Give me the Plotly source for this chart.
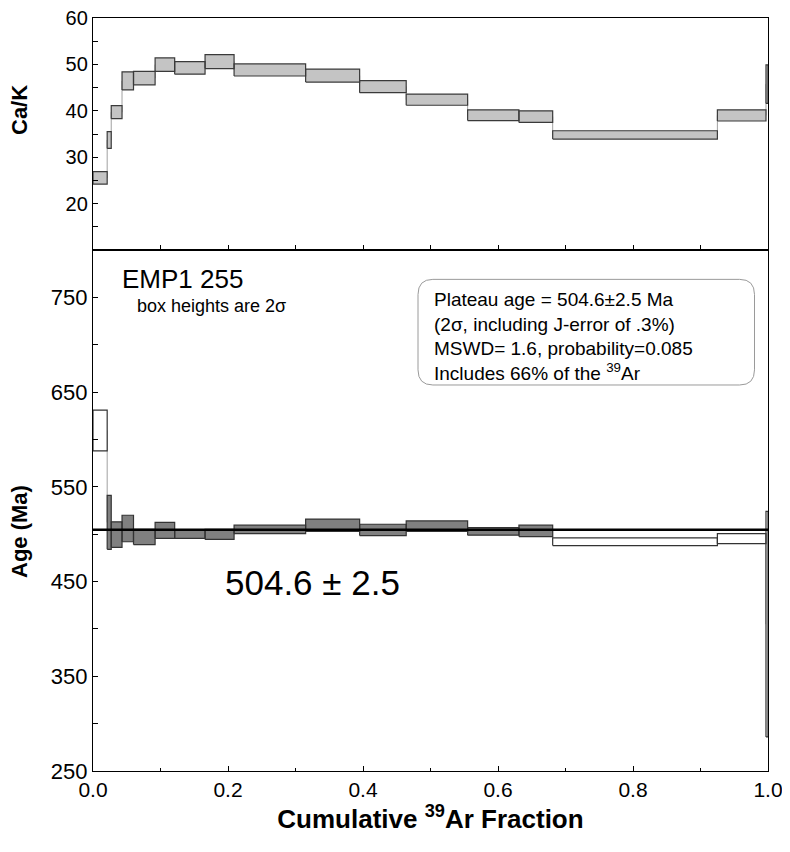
import plotly.graph_objects as go

# ---- data ----
step_edges = [0.0, 0.021, 0.027, 0.043, 0.060, 0.092, 0.121, 0.166, 0.209,
              0.315, 0.395, 0.464, 0.555, 0.631, 0.681, 0.925, 0.997, 1.0]
cak_low = [24.2, 31.9, 38.3, 44.5, 45.6, 48.5, 47.9, 49.1, 47.5, 46.2,
           43.9, 41.2, 37.9, 37.5, 33.9, 37.8, 41.6]
cak_high = [26.9, 35.5, 41.1, 48.4, 48.5, 51.4, 50.6, 52.1, 50.1, 49.0,
            46.5, 43.6, 40.2, 40.0, 35.7, 40.2, 49.9]
age_low = [588, 484, 486, 492, 489, 495.5, 495.5, 494.5, 500.5, 503,
           498.5, 503, 499, 497.5, 488, 490, 286]
age_high = [631, 541, 513, 520, 505, 512.5, 504, 505, 509.5, 516,
            510.5, 514, 507, 509.5, 496, 500.5, 524]
in_plateau = [False] + [True] * 13 + [False, False, False]
plateau_age = 504.6
plateau_err = 2.5

x_ticks = [0.0, 0.2, 0.4, 0.6, 0.8, 1.0]
age_ticks = [250, 350, 450, 550, 650, 750]
cak_ticks = [20, 30, 40, 50, 60]

FONT = "Liberation Sans, Arial, sans-serif"


def boxes(lows, highs, mask=None):
    xs, ys = [], []
    for i in range(len(lows)):
        if mask is not None and not mask[i]:
            continue
        x0, x1 = step_edges[i], step_edges[i + 1]
        lo, hi = lows[i], highs[i]
        xs += [x0, x1, x1, x0, x0, None]
        ys += [lo, lo, hi, hi, lo, None]
    return xs, ys


def connector(lows, highs):
    mids = [(a + b) / 2 for a, b in zip(lows, highs)]
    xs = step_edges[:-1] + [step_edges[-1]]
    ys = mids + [mids[-1]]
    return xs, ys


fig = go.Figure()

# --- Ca/K panel ---
cx, cy = connector(cak_low, cak_high)
fig.add_trace(go.Scatter(x=cx, y=cy, mode="lines", line=dict(color="#a0a0a0", width=1, shape="hv"),
                         xaxis="x2", yaxis="y2", hoverinfo="skip", showlegend=False))
bx, by = boxes(cak_low, cak_high)
fig.add_trace(go.Scatter(x=bx, y=by, mode="lines", fill="toself", fillcolor="#c4c4c4",
                         line=dict(color="#3a3a3a", width=1.2), xaxis="x2", yaxis="y2",
                         hoverinfo="skip", showlegend=False))

# --- Age panel ---
ax_, ay_ = connector(age_low, age_high)
fig.add_trace(go.Scatter(x=ax_, y=ay_, mode="lines", line=dict(color="#a0a0a0", width=1, shape="hv"),
                         xaxis="x", yaxis="y", hoverinfo="skip", showlegend=False))
px_, py_ = boxes(age_low, age_high, in_plateau)
fig.add_trace(go.Scatter(x=px_, y=py_, mode="lines", fill="toself", fillcolor="#808080",
                         line=dict(color="#333333", width=1.2), xaxis="x", yaxis="y",
                         hoverinfo="skip", showlegend=False))
ox, oy = boxes(age_low, age_high, [not p for p in in_plateau])
fig.add_trace(go.Scatter(x=ox, y=oy, mode="lines", fill="toself", fillcolor="white",
                         line=dict(color="#333333", width=1.2), xaxis="x", yaxis="y",
                         hoverinfo="skip", showlegend=False))
fig.add_trace(go.Scatter(x=[0.0, 1.0], y=[plateau_age, plateau_age], mode="lines",
                         line=dict(color="black", width=2.6), xaxis="x", yaxis="y",
                         hoverinfo="skip", showlegend=False))

MT, MB, ML, MR = 10, 73, 85, 14
FIG_W, FIG_H = 774, 836
PLOT_H = FIG_H - MT - MB
PLOT_W = FIG_W - ML - MR
split = 521 / PLOT_H

axis_common = dict(showline=True, linecolor="black", linewidth=1.3, ticks="inside",
                   ticklen=5, tickcolor="black", showgrid=False, zeroline=False,
                   automargin=False, ticklabeloverflow="allow")

fig.update_layout(
    width=FIG_W, height=FIG_H,
    margin=dict(l=ML, r=MR, t=MT, b=MB, autoexpand=False),
    paper_bgcolor="white", plot_bgcolor="white",
    font=dict(family=FONT, color="black"),
    xaxis=dict(domain=[0, 1], range=[0, 1], anchor="y", mirror=True,
               tickvals=x_ticks, ticktext=[f"{v:.1f}" for v in x_ticks],
               tickfont=dict(size=21),
               minor=dict(dtick=0.1, tick0=0, ticks="inside", ticklen=3, tickcolor="black"),
               title=dict(text="<b>Cumulative <sup>39</sup>Ar Fraction</b>", font=dict(size=26), standoff=2),
               **axis_common),
    yaxis=dict(domain=[0, split], range=[250, 800], anchor="x", mirror=True,
               tickvals=age_ticks, tickfont=dict(size=22),
               minor=dict(dtick=50, tick0=250, ticks="inside", ticklen=5, tickcolor="black"),
               **axis_common),
    xaxis2=dict(domain=[0, 1], range=[0, 1], anchor="y2", mirror=True, matches="x",
                showticklabels=False, dtick=0.1, **axis_common),
    yaxis2=dict(domain=[split, 1], range=[10, 60], anchor="x2", mirror=True,
                tickvals=cak_ticks, tickfont=dict(size=20),
                minor=dict(dtick=5, tick0=10, ticks="inside", ticklen=5, tickcolor="black"),
                **axis_common),
)

# y titles (window pixels minus 8px page offset)
title_x = (11 - ML) / PLOT_W
fig.add_annotation(text="<b>Ca/K</b>", xref="paper", yref="paper", x=title_x,
                   y=(FIG_H - MB - 102) / PLOT_H, xanchor="center", yanchor="middle",
                   textangle=-90, showarrow=False, font=dict(size=22, family=FONT))
fig.add_annotation(text="<b>Age (Ma)</b>", xref="paper", yref="paper", x=title_x,
                   y=(FIG_H - MB - 524) / PLOT_H, xanchor="center", yanchor="middle",
                   textangle=-90, showarrow=False, font=dict(size=22, family=FONT))

# panel texts
fig.add_annotation(text="EMP1 255", xref="x", yref="y", x=0.04, y=769, xanchor="left",
                   showarrow=False, font=dict(size=26, family=FONT))
fig.add_annotation(text="box heights are 2σ", xref="x", yref="y", x=0.062, y=741, xanchor="left",
                   showarrow=False, font=dict(size=18, family=FONT))
fig.add_annotation(text=f"{plateau_age} ± {plateau_err}", xref="x", yref="y", x=0.325, y=449,
                   showarrow=False, font=dict(size=35, family=FONT))

# rounded info box
bx0, bx1 = 0.4815, 0.98
by0, by1 = 657.5, 769
rx, ry = 0.022, 16
path = (f"M {bx0+rx},{by1} L {bx1-rx},{by1} Q {bx1},{by1} {bx1},{by1-ry} "
        f"L {bx1},{by0+ry} Q {bx1},{by0} {bx1-rx},{by0} L {bx0+rx},{by0} "
        f"Q {bx0},{by0} {bx0},{by0+ry} L {bx0},{by1-ry} Q {bx0},{by1} {bx0+rx},{by1} Z")
fig.add_shape(type="path", path=path, xref="x", yref="y",
              line=dict(color="#9a9a9a", width=1), fillcolor="white", layer="above")
info = ("Plateau age = 504.6±2.5 Ma<br>(2σ, including J-error of .3%)<br>"
        "MSWD= 1.6, probability=0.085<br>Includes 66% of the <sup>39</sup>Ar")
fig.add_annotation(text=info, xref="x", yref="y", x=0.502, y=761, xanchor="left", yanchor="top",
                   align="left", showarrow=False, font=dict(size=19, family=FONT))

fig.write_html("out.html")
